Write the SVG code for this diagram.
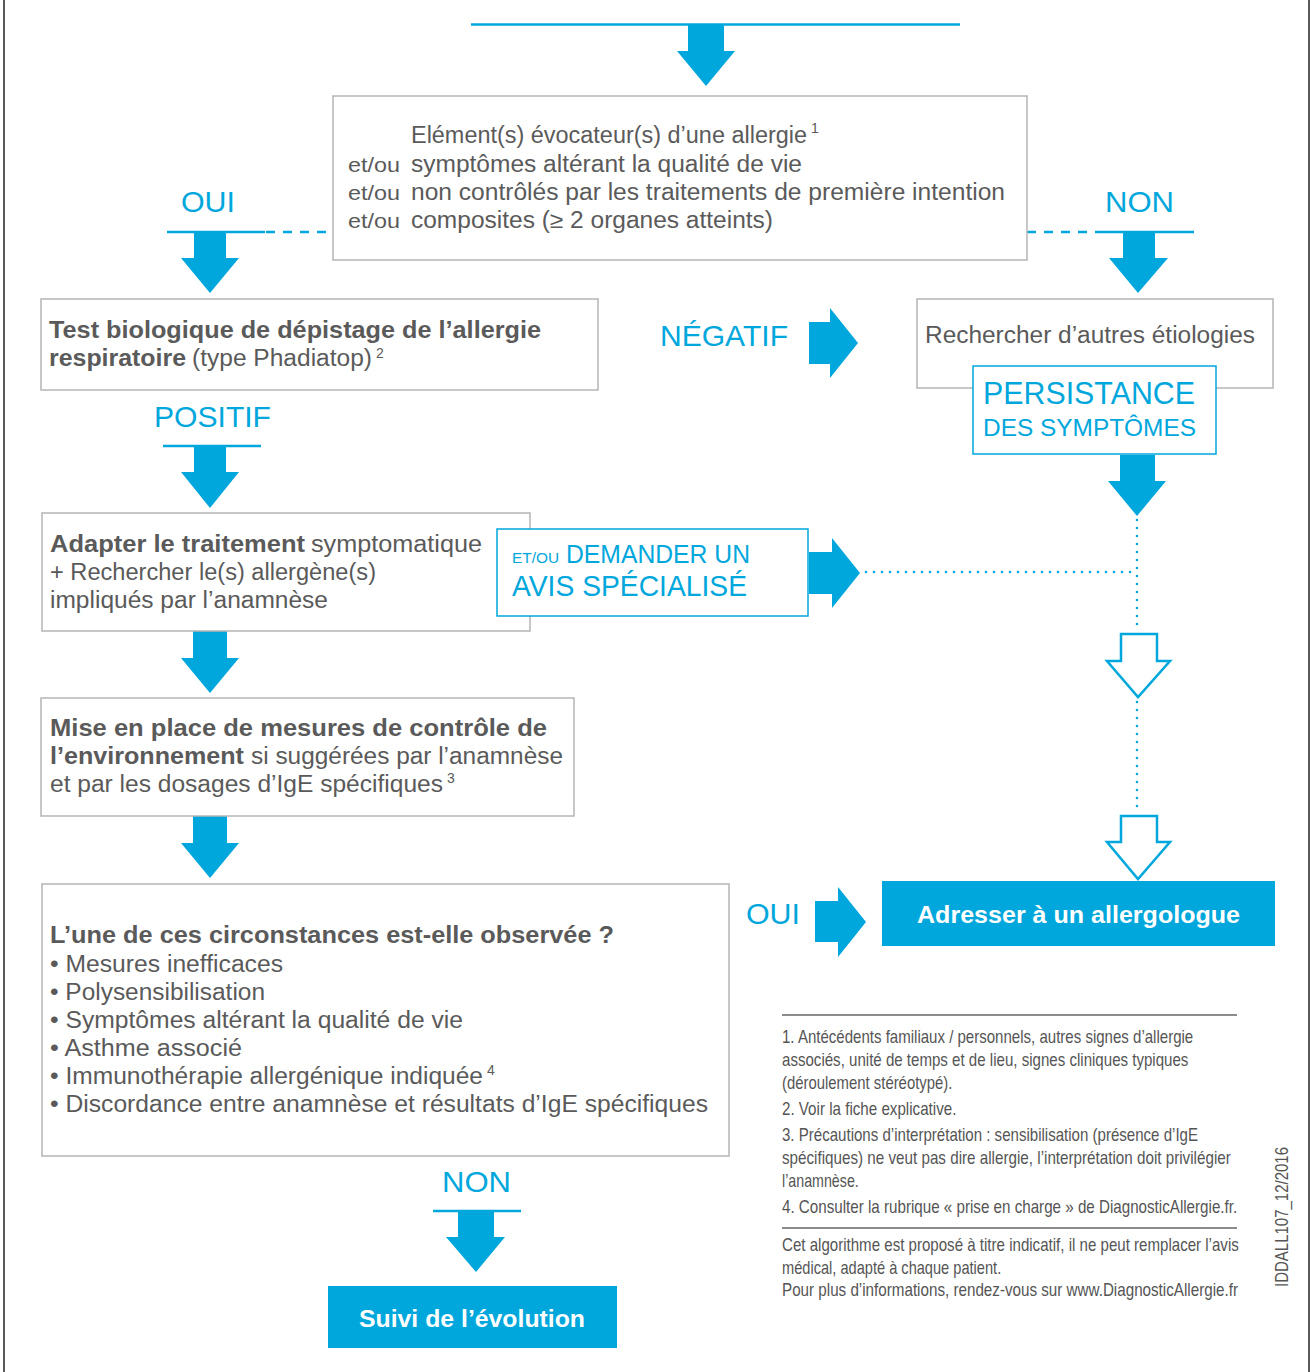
<svg xmlns="http://www.w3.org/2000/svg" width="1313" height="1372" viewBox="0 0 1313 1372">
<defs>
<style>
.t{font-family:"Liberation Sans",Arial,Helvetica,sans-serif;fill:#5a5a5a;font-size:23px}
.b{font-weight:bold}
.s{font-size:14px}
.eo{font-size:21px}
.lab{font-family:"Liberation Sans",Arial,Helvetica,sans-serif;fill:#00a7dc;font-size:30px}
.l32{font-size:32px}
.l24{font-size:24px}
.l25{font-size:25px}
.l29{font-size:29px}
.l15{font-size:15px}
.w{font-family:"Liberation Sans",Arial,Helvetica,sans-serif;fill:#ffffff;font-size:24px;font-weight:bold}
.fn{font-family:"Liberation Sans",Arial,Helvetica,sans-serif;fill:#555555;font-size:18px}
.box{fill:#ffffff;stroke:#b5b5b5;stroke-width:1.5}
.bbox{fill:#ffffff;stroke:#00a7dc;stroke-width:1.5}
.fbox{fill:#00a7dc}
.arr{fill:#00a7dc}
.harr{fill:#ffffff;stroke:#00a7dc;stroke-width:2.5;stroke-linejoin:miter}
.dot{fill:none;stroke:#00a7dc;stroke-width:2.6;stroke-dasharray:0 8;stroke-linecap:round}
.dash{fill:none;stroke:#00a7dc;stroke-width:2.5;stroke-dasharray:9 8}
.sol{fill:none;stroke:#00a7dc;stroke-width:2.5}
.rule{fill:none;stroke:#666666;stroke-width:1.3}
.frame{fill:none;stroke:#222222;stroke-width:1.5}
</style>
</defs>

<g id="frame">
<line class="frame" x1="4" y1="0" x2="4" y2="1372"/>
<line class="frame" x1="1309" y1="0" x2="1309" y2="1372"/>
</g>

<g id="connectors">
<line class="sol" x1="471" y1="24.5" x2="960" y2="24.5"/>
<polygon class="arr" points="688,25 724,25 724,51 735,51 706,86 677,51 688,51"/>
<line class="sol" x1="167" y1="232" x2="265" y2="232"/>
<line class="dash" x1="266" y1="232" x2="333" y2="232"/>
<polygon class="arr" points="194,232 226,232 226,258 239,258 210,293 181,258 194,258"/>
<line class="dash" x1="1027" y1="232" x2="1094" y2="232"/>
<line class="sol" x1="1095" y1="232" x2="1194" y2="232"/>
<polygon class="arr" points="1123,232 1155,232 1155,258 1168,258 1138,293 1109,258 1123,258"/>
<line class="sol" x1="163" y1="446" x2="261" y2="446"/>
<polygon class="arr" points="194,446 226,446 226,472 239,472 210,508 181,472 194,472"/>
<polygon class="arr" points="809,322 830,322 830,308 858,343 830,378 830,364 809,364"/>
<polygon class="arr" points="1120,455 1155,455 1155,481 1166,481 1137,516 1108,481 1120,481"/>
<polygon class="arr" points="809,552 832,552 832,538 860,573 832,608 832,594 809,594"/>
<polygon class="arr" points="193,631 227,631 227,658 239,658 210,693 181,658 193,658"/>
<polygon class="arr" points="193,816 227,816 227,843 239,843 210,878 181,843 193,843"/>
<line class="dot" x1="866" y1="572" x2="1137" y2="572"/>
<line class="dot" x1="1137" y1="520" x2="1137" y2="632"/>
<polygon class="harr" points="1121,634 1157,634 1157,661 1170,661 1138,697 1107,661 1121,661"/>
<line class="dot" x1="1137" y1="702" x2="1137" y2="814"/>
<polygon class="harr" points="1121,816 1157,816 1157,842 1170,842 1138,879 1107,842 1121,842"/>
<polygon class="arr" points="815,901 838,901 838,887 866,922 838,957 838,942 815,942"/>
<line class="sol" x1="433" y1="1211" x2="521" y2="1211"/>
<polygon class="arr" points="458,1211 494,1211 494,1237 505,1237 476,1272 446,1237 458,1237"/>
</g>

<g id="labels">
<text class="lab" x="181" y="212" textLength="54" lengthAdjust="spacingAndGlyphs">OUI</text>
<text class="lab" x="1105" y="212" textLength="69" lengthAdjust="spacingAndGlyphs">NON</text>
<text class="lab" x="154" y="427" textLength="117" lengthAdjust="spacingAndGlyphs">POSITIF</text>
<text class="lab" x="660" y="346" textLength="128" lengthAdjust="spacingAndGlyphs">NÉGATIF</text>
<text class="lab" x="746" y="924" textLength="54" lengthAdjust="spacingAndGlyphs">OUI</text>
<text class="lab" x="442" y="1192" textLength="69" lengthAdjust="spacingAndGlyphs">NON</text>
</g>

<g id="node-criteria">
<rect class="box" x="333" y="96" width="694" height="164"/>
<text class="t" x="411" y="143" textLength="396" lengthAdjust="spacingAndGlyphs">Elément(s) évocateur(s) d’une allergie</text>
<text class="t s" x="811" y="133">1</text>
<text class="t eo" x="348" y="172" textLength="52" lengthAdjust="spacingAndGlyphs">et/ou</text>
<text class="t" x="411" y="172" textLength="391" lengthAdjust="spacingAndGlyphs">symptômes altérant la qualité de vie</text>
<text class="t eo" x="348" y="200" textLength="52" lengthAdjust="spacingAndGlyphs">et/ou</text>
<text class="t" x="411" y="200" textLength="594" lengthAdjust="spacingAndGlyphs">non contrôlés par les traitements de première intention</text>
<text class="t eo" x="348" y="228" textLength="52" lengthAdjust="spacingAndGlyphs">et/ou</text>
<text class="t" x="411" y="228" textLength="362" lengthAdjust="spacingAndGlyphs">composites (≥ 2 organes atteints)</text>
</g>

<g id="node-test">
<rect class="box" x="41" y="299" width="557" height="91"/>
<text class="t b" x="49" y="338" textLength="492" lengthAdjust="spacingAndGlyphs">Test biologique de dépistage de l’allergie</text>
<text class="t b" x="49" y="366" textLength="137" lengthAdjust="spacingAndGlyphs">respiratoire</text>
<text class="t" x="192" y="366" textLength="180" lengthAdjust="spacingAndGlyphs">(type Phadiatop)</text>
<text class="t s" x="376" y="358">2</text>
</g>

<g id="node-etiologies">
<rect class="box" x="917" y="299" width="356" height="89"/>
<text class="t" x="925" y="343" textLength="330" lengthAdjust="spacingAndGlyphs">Rechercher d’autres étiologies</text>
</g>

<g id="node-persistance">
<rect class="bbox" x="973" y="366" width="243" height="88"/>
<text class="lab l32" x="983" y="404" textLength="212" lengthAdjust="spacingAndGlyphs">PERSISTANCE</text>
<text class="lab l24" x="983" y="436" textLength="213" lengthAdjust="spacingAndGlyphs">DES SYMPTÔMES</text>
</g>

<g id="node-adapter">
<rect class="box" x="42" y="513" width="488" height="118"/>
<text class="t b" x="50" y="552" textLength="255" lengthAdjust="spacingAndGlyphs">Adapter le traitement</text>
<text class="t" x="311" y="552" textLength="171" lengthAdjust="spacingAndGlyphs">symptomatique</text>
<text class="t" x="50" y="580" textLength="326" lengthAdjust="spacingAndGlyphs">+ Rechercher le(s) allergène(s)</text>
<text class="t" x="50" y="608" textLength="278" lengthAdjust="spacingAndGlyphs">impliqués par l’anamnèse</text>
</g>

<g id="node-avis">
<rect class="bbox" x="497" y="529" width="311" height="87"/>
<text class="lab l15" x="512" y="563" textLength="47" lengthAdjust="spacingAndGlyphs">ET/OU</text>
<text class="lab l25" x="566" y="563" textLength="184" lengthAdjust="spacingAndGlyphs">DEMANDER UN</text>
<text class="lab l29" x="512" y="596" textLength="235" lengthAdjust="spacingAndGlyphs">AVIS SPÉCIALISÉ</text>
</g>

<g id="node-mesures">
<rect class="box" x="41" y="698" width="533" height="118"/>
<text class="t b" x="50" y="736" textLength="497" lengthAdjust="spacingAndGlyphs">Mise en place de mesures de contrôle de</text>
<text class="t b" x="50" y="764" textLength="194" lengthAdjust="spacingAndGlyphs">l’environnement</text>
<text class="t" x="251" y="764" textLength="312" lengthAdjust="spacingAndGlyphs">si suggérées par l’anamnèse</text>
<text class="t" x="50" y="792" textLength="393" lengthAdjust="spacingAndGlyphs">et par les dosages d’IgE spécifiques</text>
<text class="t s" x="447" y="783">3</text>
</g>

<g id="node-circonstances">
<rect class="box" x="42" y="884" width="687" height="272"/>
<text class="t b" x="50" y="943" textLength="564" lengthAdjust="spacingAndGlyphs">L’une de ces circonstances est-elle observée ?</text>
<text class="t" x="50" y="972" textLength="233" lengthAdjust="spacingAndGlyphs">• Mesures inefficaces</text>
<text class="t" x="50" y="1000" textLength="215" lengthAdjust="spacingAndGlyphs">• Polysensibilisation</text>
<text class="t" x="50" y="1028" textLength="413" lengthAdjust="spacingAndGlyphs">• Symptômes altérant la qualité de vie</text>
<text class="t" x="50" y="1056" textLength="192" lengthAdjust="spacingAndGlyphs">• Asthme associé</text>
<text class="t" x="50" y="1084" textLength="433" lengthAdjust="spacingAndGlyphs">• Immunothérapie allergénique indiquée</text>
<text class="t s" x="487" y="1075">4</text>
<text class="t" x="50" y="1112" textLength="658" lengthAdjust="spacingAndGlyphs">• Discordance entre anamnèse et résultats d’IgE spécifiques</text>
</g>

<g id="node-allergologue">
<rect class="fbox" x="882" y="881" width="393" height="65"/>
<text class="w" x="917" y="923" textLength="323" lengthAdjust="spacingAndGlyphs">Adresser à un allergologue</text>
</g>

<g id="node-suivi">
<rect class="fbox" x="328" y="1286" width="289" height="62"/>
<text class="w" x="359" y="1327" textLength="226" lengthAdjust="spacingAndGlyphs">Suivi de l’évolution</text>
</g>

<g id="footnotes">
<line class="rule" x1="782" y1="1015" x2="1237" y2="1015"/>
<g transform="translate(782,0) scale(0.8,1)">
<text class="fn" x="0" y="1043" textLength="514" lengthAdjust="spacingAndGlyphs">1. Antécédents familiaux / personnels, autres signes d’allergie</text>
<text class="fn" x="0" y="1066" textLength="508" lengthAdjust="spacingAndGlyphs">associés, unité de temps et de lieu, signes cliniques typiques</text>
<text class="fn" x="0" y="1089" textLength="213" lengthAdjust="spacingAndGlyphs">(déroulement stéréotypé).</text>
<text class="fn" x="0" y="1115" textLength="218" lengthAdjust="spacingAndGlyphs">2. Voir la fiche explicative.</text>
<text class="fn" x="0" y="1141" textLength="520" lengthAdjust="spacingAndGlyphs">3. Précautions d’interprétation : sensibilisation (présence d’IgE</text>
<text class="fn" x="0" y="1164" textLength="561" lengthAdjust="spacingAndGlyphs">spécifiques) ne veut pas dire allergie, l’interprétation doit privilégier</text>
<text class="fn" x="0" y="1187" textLength="96" lengthAdjust="spacingAndGlyphs">l’anamnèse.</text>
<text class="fn" x="0" y="1213" textLength="569" lengthAdjust="spacingAndGlyphs">4. Consulter la rubrique « prise en charge » de DiagnosticAllergie.fr.</text>
<text class="fn" x="0" y="1251" textLength="571" lengthAdjust="spacingAndGlyphs">Cet algorithme est proposé à titre indicatif, il ne peut remplacer l’avis</text>
<text class="fn" x="0" y="1274" textLength="274" lengthAdjust="spacingAndGlyphs">médical, adapté à chaque patient.</text>
<text class="fn" x="0" y="1296" textLength="570" lengthAdjust="spacingAndGlyphs">Pour plus d’informations, rendez-vous sur www.DiagnosticAllergie.fr</text>
</g>
<line class="rule" x1="782" y1="1228" x2="1237" y2="1228"/>
<text class="fn" transform="translate(1288,1287) rotate(-90)" x="0" y="0" textLength="140" lengthAdjust="spacingAndGlyphs">IDDALL107_12/2016</text>
</g>
</svg>
